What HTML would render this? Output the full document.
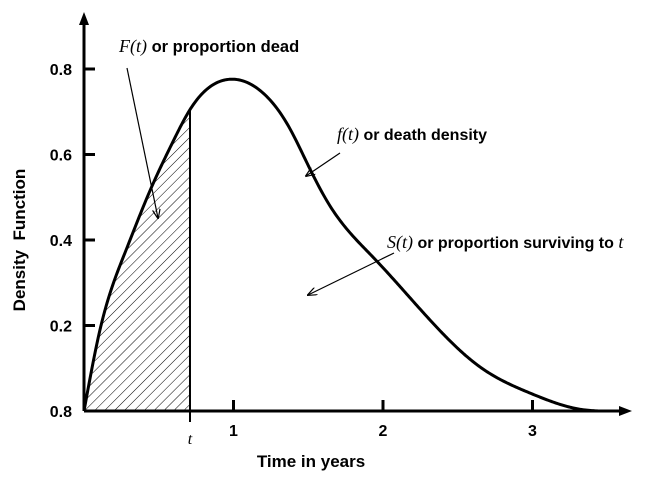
<!DOCTYPE html>
<html><head><meta charset="utf-8"><style>
body{margin:0;background:#fff}
svg{display:block;font-family:"Liberation Sans",Arial,sans-serif}
</style></head><body>
<svg id="c" width="657" height="479" viewBox="0 0 657 479">
<defs>
<pattern id="hatch" patternUnits="userSpaceOnUse" width="7" height="7" patternTransform="rotate(45)">
<line x1="0" y1="0" x2="0" y2="7" stroke="#000" stroke-width="1"/>
</pattern>
<marker id="ah" markerWidth="10" markerHeight="8" refX="9" refY="4" orient="auto" markerUnits="userSpaceOnUse">
<path d="M0,0 L10,4 L0,8" fill="none" stroke="#000" stroke-width="1.2"/>
</marker>
</defs>
<g id="marks"></g>
<line x1="84" y1="411" x2="84" y2="22" stroke="#000" stroke-width="3"/>
<polygon points="84,12 79,25 89,25" fill="#000"/>
<line x1="84" y1="411" x2="622" y2="411" stroke="#000" stroke-width="3"/>
<polygon points="632,411 619,406 619,416" fill="#000"/>
<g id="ticks" font-weight="bold" font-size="16"></g>
<text x="25" y="240" transform="rotate(-90 25 240)" text-anchor="middle" font-weight="bold" font-size="17">Density&#160;&#160;Function</text>
<text x="311" y="467" text-anchor="middle" font-weight="bold" font-size="17">Time in years</text>
<text x="190" y="444" text-anchor="middle" font-style="italic" font-size="16" font-family="Liberation Serif,serif">t</text>
<text x="119" y="52" font-size="16.5"><tspan font-family="Liberation Serif,serif" font-style="italic" font-size="18">F(t)</tspan><tspan font-weight="bold"> or proportion dead</tspan></text>
<line x1="127" y1="68" x2="158" y2="218" stroke="#000" stroke-width="1.2" marker-end="url(#ah)"/>
<text x="337" y="140" font-size="16"><tspan font-family="Liberation Serif,serif" font-style="italic" font-size="18">f(t)</tspan><tspan font-weight="bold"> or death density</tspan></text>
<line x1="340" y1="153" x2="306" y2="176" stroke="#000" stroke-width="1.2" marker-end="url(#ah)"/>
<text x="387" y="248" font-size="16"><tspan font-family="Liberation Serif,serif" font-style="italic" font-size="18">S(t)</tspan><tspan font-weight="bold"> or proportion surviving to </tspan><tspan font-family="Liberation Serif,serif" font-style="italic" font-size="18">t</tspan></text>
<line x1="394" y1="253" x2="308" y2="295" stroke="#000" stroke-width="1.2" marker-end="url(#ah)"/>
</svg>
<script>
const xs=[0,0.107,0.274,0.441,0.595,0.709,0.823,0.977,1.197,1.378,1.492,1.645,1.933,2.314,2.649,2.983,3.338,3.44];
const ys=[0,0.19,0.37,0.515,0.63,0.705,0.753,0.776,0.744,0.66,0.58,0.48,0.36,0.213,0.103,0.042,0.003,0];
const tVal=0.709;
const xTicks=[1,2,3];
const yTicks=[0,0.2,0.4,0.6,0.8];
const yTickLabels=["0.8","0.2","0.4","0.6","0.8"];
const X=v=>84+v*149.5, Y=v=>411-v*427.5;
const ns="http://www.w3.org/2000/svg";
function mk(t,a,p){const e=document.createElementNS(ns,t);for(const k in a)e.setAttribute(k,a[k]);p.appendChild(e);return e;}
const n=xs.length-1,h=[],al=[0],l=[1],mu=[0],z=[0],c=new Array(n+1).fill(0),b=[],dd=[];
for(let i=0;i<n;i++)h.push(xs[i+1]-xs[i]);
for(let i=1;i<n;i++)al.push(3/h[i]*(ys[i+1]-ys[i])-3/h[i-1]*(ys[i]-ys[i-1]));
for(let i=1;i<n;i++){l[i]=2*(xs[i+1]-xs[i-1])-h[i-1]*mu[i-1];mu[i]=h[i]/l[i];z[i]=(al[i]-h[i-1]*z[i-1])/l[i];}
for(let j=n-1;j>=0;j--){c[j]=z[j]-mu[j]*c[j+1];b[j]=(ys[j+1]-ys[j])/h[j]-h[j]*(c[j+1]+2*c[j])/3;dd[j]=(c[j+1]-c[j])/(3*h[j]);}
function f(x){let j=0;while(j<n-1&&x>xs[j+1])j++;const u=x-xs[j];return ys[j]+b[j]*u+c[j]*u*u+dd[j]*u*u*u;}
const pts=[];const N=400;
for(let k=0;k<=N;k++){const x=xs[0]+(xs[n]-xs[0])*k/N;pts.push([X(x),Y(Math.max(0,f(x)))]);}
const d="M"+pts.map(p=>p[0].toFixed(2)+","+p[1].toFixed(2)).join(" L");
const g=document.getElementById("marks");
const cp=mk("clipPath",{id:"cl"},document.querySelector("defs"));
mk("rect",{x:84,y:0,width:X(tVal)-84,height:411},cp);
const area=mk("path",{d:d+" L"+X(xs[n])+",411 L84,411 Z",fill:"url(#hatch)","clip-path":"url(#cl)"},g);


const tl=mk("line",{x1:X(tVal),y1:Y(f(tVal)),x2:X(tVal),y2:422,stroke:"#000","stroke-width":2},g);


const cv=mk("path",{d:d,fill:"none",stroke:"#000","stroke-width":3,"stroke-linejoin":"round"},g);


const tk=document.getElementById("ticks");
xTicks.forEach(v=>{const ln=mk("line",{x1:X(v),y1:411,x2:X(v),y2:400,stroke:"#000","stroke-width":3},tk);


const t=mk("text",{x:X(v),y:436,"text-anchor":"middle"},tk);t.textContent=v;

});
yTicks.forEach((v,i)=>{const ln=mk("line",{x1:84,y1:Y(v),x2:95,y2:Y(v),stroke:"#000","stroke-width":3},tk);


const t=mk("text",{x:72,y:Y(v)+6,"text-anchor":"end"},tk);t.textContent=yTickLabels[i];

});
</script>
</body></html>
